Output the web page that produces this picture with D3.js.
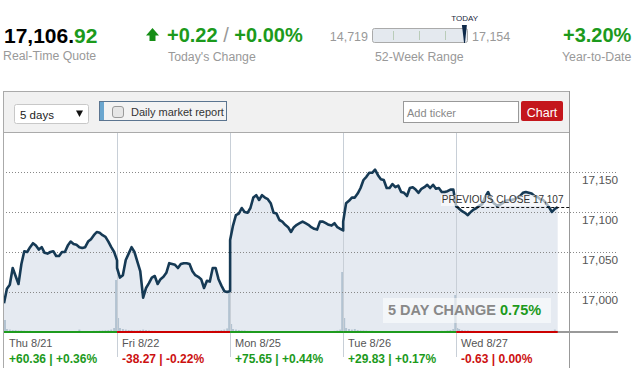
<!DOCTYPE html>
<html><head><meta charset="utf-8">
<script src="https://cdn.jsdelivr.net/npm/d3@7"></script>
<style>
html,body{margin:0;padding:0;background:#fff;}
svg{display:block;font-family:"Liberation Sans",Arial,sans-serif;}
</style></head>
<body>
<svg id="c" width="639" height="382"></svg>
<script>
// ---------- data ----------
const days = ["Thu 8/21", "Fri 8/22", "Mon 8/25", "Tue 8/26", "Wed 8/27"];
const dayChange = [60.36, -38.27, 75.65, 29.83, -0.63];
const dayChangePct = [0.36, -0.22, 0.44, 0.17, 0.00];

// prices every 10 minutes from 9:30
const thuPrice = [16986,17004,17009,17030,17020,17010,17035,17051,17050,17056,17061,17058,17053,17056,17049,17048,17050,17051,17045,17045,17050,17050,17058,17063,17060,17059,17056,17055,17056,17063,17066,17071,17075,17074,17071,17069,17063,17056,17050,17039.49];
const friPrice = [17030,17018,17021,17040,17048,17056,17050,17038,17026,16993,17005,17011,17018,17020,17010,17016,17019,17024,17036,17035,17034,17030,17035,17036,17036,17035,17026,17021,17019,17016,17005,17014,17013,17030,17030,17016,17008,17001,17000,17001.22];
const monPrice = [17065,17083,17096,17098,17105,17100,17099,17105,17118,17121,17115,17121,17118,17116,17111,17099,17098,17090,17088,17084,17081,17075,17081,17084,17086,17088,17086,17084,17081,17079,17078,17088,17088,17086,17084,17083,17086,17081,17079,17076.87];
const tuePrice = [17088,17111,17114,17118,17118,17123,17130,17140,17144,17149,17149,17153,17146,17141,17140,17130,17130,17135,17131,17133,17125,17124,17120,17130,17131,17128,17124,17129,17131,17134,17130,17134,17129,17130,17125,17125,17126,17128,17128,17106.70];
const wedPrice = [17108,17104,17101,17099,17096,17100,17103,17105,17108,17110,17119,17125,17116,17111,17108,17109,17111,17114,17115,17115,17116,17118,17120,17124,17125,17124,17123,17120,17119,17116,17115,17111,17106,17100,17104,17106.07];

// volume (millions of shares) per 10-minute bucket
const thuVol = [6,1.5,1.2,1,1,0.8,0.8,0.7,0.6,0.6,0.5,0.5,0.5,0.5,0.4,0.4,0.4,0.4,0.4,0.4,0.4,0.5,0.4,0.4,0.4,0.5,1.2,0.5,0.5,0.5,0.5,0.6,0.6,0.7,0.8,0.9,1,1.2,2,26];
const friVol = [7,2,1.5,1.2,1,1,0.8,0.8,1,1.2,1,0.8,0.6,0.6,0.5,0.5,0.5,0.4,0.4,0.4,0.4,0.4,0.4,0.4,0.4,0.4,0.5,0.5,0.5,0.5,0.6,0.6,0.6,0.7,0.8,0.8,1,1.2,1.8,20];
const monVol = [4,1.5,1.2,1,0.8,0.8,0.6,0.6,0.5,0.5,0.5,0.4,0.4,0.4,0.4,0.4,0.4,0.3,0.3,0.3,0.3,0.3,0.3,0.3,0.3,0.3,0.3,0.3,0.3,0.4,0.4,0.4,0.4,0.4,0.5,0.5,0.6,0.8,1.2,30];
const tueVol = [7,2,1.5,1.2,1.5,1,0.8,0.8,0.7,0.6,0.6,0.5,0.5,0.5,0.5,0.4,0.4,0.4,0.4,0.4,0.4,0.4,0.5,0.4,0.4,0.4,0.4,0.4,0.4,0.4,0.5,0.5,0.5,0.5,0.6,0.6,0.8,1,1.5,18.5];
const wedVol = [2,1.5,1,0.8,0.8,0.6,0.6,0.5,0.5,0.5,0.5,0.5,0.4,0.4,0.4,0.4,0.4,0.3,0.3,0.3,0.3,0.3,0.3,0.3,0.3,0.3,0.3,0.3,0.4,0.4,0.4,0.4,0.5,0.6,1.2,0.6];

const yTicks = [17000, 17050, 17100, 17150];
const prevClose = 17106.70;
const quote = 17106.92;
const todayChange = 0.22, todayPct = 0.00;
const weekLow = 14719, weekHigh = 17154;
const ytdPct = 3.20;
const fiveDayPct = 0.75;

// ---------- setup ----------
const priceDays = [thuPrice, friPrice, monPrice, tuePrice, wedPrice];
const volDays = [thuVol, friVol, monVol, tueVol, wedVol];
const STEP = 10, DAYMIN = 390;
const pts = [], vols = [];
priceDays.forEach((arr, d) => arr.forEach((v, i) => pts.push({t: d*DAYMIN + i*STEP, v})));
volDays.forEach((arr, d) => arr.forEach((v, i) => vols.push({t: d*DAYMIN + i*STEP, v, first: i===0, last: i===arr.length-1})));

const GREEN = "#1c9a1c", RED = "#cc1010", NAVY = "#163a55";
const svg = d3.select("#c");

const x = d3.scaleLinear().domain([0, 5*DAYMIN]).range([4, 569.3]);
const y = d3.scaleLinear().domain([16950, 17200]).range([332, 132]);
const yv = d3.scaleLinear().domain([0, 30]).range([332, 272]);

// ---------- header ----------
const fmt2 = d3.format(",.2f");
const q = fmt2(quote);
const qt = svg.append("text").attr("x", 4).attr("y", 43).attr("font-size", 21).attr("font-weight", "bold");
qt.append("tspan").attr("fill", "#000").text(q.slice(0, q.length - 2));
qt.append("tspan").attr("fill", GREEN).text(q.slice(q.length - 2));
svg.append("text").attr("x", 3).attr("y", 60).attr("font-size", 12.3).attr("fill", "#999").text("Real-Time Quote");

svg.append("path").attr("fill", "#168e16")
  .attr("d", "M146,35.5 L152.5,28 L159,35.5 L155.5,35.5 L155.5,41 L149.5,41 L149.5,35.5 Z");
const sgn = v => v > 0 ? "+" : (v < 0 ? "-" : "");
const tc = svg.append("text").attr("x", 167).attr("y", 42).attr("font-size", 20).attr("font-weight", "bold").attr("fill", GREEN);
tc.append("tspan").text("+" + Math.abs(todayChange).toFixed(2) + " ");
tc.append("tspan").attr("fill", "#999").attr("font-weight", "normal").text("/");
tc.append("tspan").text(" +" + Math.abs(todayPct).toFixed(2) + "%");
svg.append("text").attr("x", 168).attr("y", 61).attr("font-size", 12.3).attr("fill", "#999").text("Today's Change");

// 52-week range
const fmt0 = d3.format(",");
svg.append("text").attr("x", 368).attr("y", 41).attr("text-anchor", "end").attr("font-size", 12.5).attr("fill", "#999").text(fmt0(weekLow));
svg.append("rect").attr("x", 372.5).attr("y", 28.5).attr("width", 95).attr("height", 14).attr("rx", 2).attr("fill", "#e4e9ef").attr("stroke", "#aaa");
const rq = d3.scaleLinear().domain([0, 4]).range([367.5, 471]);
[1, 2, 3].forEach(k => svg.append("line").attr("x1", Math.round(rq(k)) + 0.5).attr("x2", Math.round(rq(k)) + 0.5).attr("y1", 31).attr("y2", 40).attr("stroke", "#b9ccb9"));
const rx = d3.scaleLinear().domain([weekLow, weekHigh]).range([372.5, 466.5]);
const mx = rx(quote);
svg.append("path").attr("fill", "#0f2a4a").attr("d", `M${mx-2.8},25 L${mx+2.2},25 L${mx+0.3},43 L${mx-0.6},43 Z`);
svg.append("text").attr("x", mx).attr("y", 21).attr("text-anchor", "middle").attr("font-size", 8).attr("fill", "#1a2a40").text("TODAY");
svg.append("text").attr("x", 472).attr("y", 41).attr("font-size", 12.5).attr("fill", "#999").text(fmt0(weekHigh));
svg.append("text").attr("x", 375).attr("y", 61).attr("font-size", 12.3).attr("fill", "#999").text("52-Week Range");

svg.append("text").attr("x", 563).attr("y", 42).attr("font-size", 20).attr("font-weight", "bold").attr("fill", GREEN).text("+" + ytdPct.toFixed(2) + "%");
svg.append("text").attr("x", 562).attr("y", 61).attr("font-size", 12.3).attr("fill", "#999").text("Year-to-Date");

// ---------- toolbar ----------
svg.append("rect").attr("x", 3.5).attr("y", 91.5).attr("width", 566).attr("height", 41).attr("fill", "#f1f1f1").attr("stroke", "#aaa");
svg.append("rect").attr("x", 14.5).attr("y", 104.5).attr("width", 74).attr("height", 19).attr("rx", 2).attr("fill", "#fff").attr("stroke", "#c8c8c8");
svg.append("text").attr("x", 20).attr("y", 118.5).attr("font-size", 11.5).attr("fill", "#222").text("5 days");
svg.append("path").attr("d", "M76,110.5 L83,110.5 L79.5,117 Z").attr("fill", "#111");

svg.append("rect").attr("x", 99.5).attr("y", 101.5).attr("width", 127).attr("height", 19).attr("fill", "#f3f3f3").attr("stroke", "#5b7590");
svg.append("rect").attr("x", 100).attr("y", 102).attr("width", 4).attr("height", 18).attr("fill", "#6aa6cf");
svg.append("rect").attr("x", 112.5).attr("y", 106.5).attr("width", 11).attr("height", 11).attr("rx", 2.5).attr("fill", "#e6e6e6").attr("stroke", "#9a9a9a");
svg.append("text").attr("x", 131).attr("y", 115.5).attr("font-size", 11).attr("fill", "#333").text("Daily market report");

svg.append("rect").attr("x", 403.5).attr("y", 101.5).attr("width", 115).attr("height", 21).attr("fill", "#fff").attr("stroke", "#999");
svg.append("text").attr("x", 407).attr("y", 116.5).attr("font-size", 11).attr("fill", "#888").text("Add ticker");
svg.append("rect").attr("x", 521).attr("y", 101).attr("width", 42).attr("height", 20).attr("rx", 2).attr("fill", "#c4161c");
svg.append("text").attr("x", 542).attr("y", 116.5).attr("text-anchor", "middle").attr("font-size", 12.5).attr("fill", "#fff").text("Chart");

// ---------- chart ----------
svg.append("defs").append("clipPath").attr("id", "plot").append("rect")
  .attr("x", 4).attr("y", 133).attr("width", 565.3).attr("height", 199);

// fill
const area = d3.area().x(d => x(d.t)).y0(y(16950)).y1(d => y(d.v));
svg.append("path").datum(pts).attr("clip-path", "url(#plot)").attr("fill", "#e5eaf1").attr("d", area);

// volume
svg.append("g").attr("clip-path", "url(#plot)").selectAll("rect").data(vols).join("rect")
  .attr("x", d => x(d.t) + (d.last ? -2 : (d.first ? 0 : -1)))
  .attr("width", 2)
  .attr("y", d => yv(d.v)).attr("height", d => yv(0) - yv(d.v))
  .attr("fill", "#b3c3d1");

// gridlines
svg.append("g").selectAll("line").data(yTicks).join("line")
  .attr("x1", 6).attr("x2", 618)
  .attr("y1", d => Math.round(y(d)) + 0.5).attr("y2", d => Math.round(y(d)) + 0.5)
  .attr("stroke", "#888").attr("stroke-dasharray", "1,2");

// day separators
svg.append("g").selectAll("line").data(d3.range(1, 5)).join("line")
  .attr("x1", d => Math.round(x(d*DAYMIN)) + 0.5).attr("x2", d => Math.round(x(d*DAYMIN)) + 0.5)
  .attr("y1", 133).attr("y2", 357).attr("stroke", "#c8cfd7");

// price line
const line = d3.line().x(d => x(d.t)).y(d => y(d.v));
svg.append("path").datum(pts).attr("clip-path", "url(#plot)").attr("fill", "none")
  .attr("stroke", NAVY).attr("stroke-width", 2.6).attr("stroke-linejoin", "round").attr("d", line);

// baseline
svg.append("line").attr("x1", 4).attr("x2", 618).attr("y1", 332).attr("y2", 332).attr("stroke", "#999").attr("stroke-width", 2);
svg.append("g").selectAll("line").data(days).join("line")
  .attr("x1", (d, i) => x(i*DAYMIN))
  .attr("x2", (d, i) => x(i*DAYMIN + (priceDays[i].length - 1) * STEP))
  .attr("y1", 332).attr("y2", 332).attr("stroke-width", 2)
  .attr("stroke", (d, i) => dayChange[i] >= 0 ? "#1e9b1e" : "#cc0000");

// box borders
svg.append("line").attr("x1", 3.5).attr("x2", 3.5).attr("y1", 91).attr("y2", 368).attr("stroke", "#aaa");
svg.append("line").attr("x1", 569.5).attr("x2", 569.5).attr("y1", 91).attr("y2", 368).attr("stroke", "#999");

// y labels
svg.append("g").selectAll("text").data(yTicks).join("text")
  .attr("x", 582).attr("y", d => y(d) + 11.5)
  .attr("font-size", 11.8).attr("fill", "#555").text(d => fmt0(d));

// previous close
const pcY = Math.round(y(prevClose)) + 0.5;
svg.append("line").attr("x1", x(4*DAYMIN)).attr("x2", 570).attr("y1", pcY).attr("y2", pcY)
  .attr("stroke", "#111").attr("stroke-dasharray", "3,2");
svg.append("rect").attr("x", 441).attr("y", 195).attr("width", 124).attr("height", 11).attr("fill", "#fff").attr("opacity", 0.62);
svg.append("text").attr("x", 563.5).attr("y", 202.8).attr("text-anchor", "end").attr("font-size", 10).attr("fill", "#333")
  .text("PREVIOUS CLOSE " + fmt0(Math.round(prevClose)));

// 5 day change
svg.append("rect").attr("x", 383).attr("y", 298).attr("width", 168).attr("height", 25).attr("fill", "#fff").attr("opacity", 0.55);
const fd = svg.append("text").attr("x", 388).attr("y", 315).attr("font-size", 14.5).attr("font-weight", "bold");
fd.append("tspan").attr("fill", "#888").text("5 DAY CHANGE ");
fd.append("tspan").attr("fill", GREEN).text(fiveDayPct.toFixed(2) + "%");

// day labels
const dl = svg.append("g").selectAll("g").data(days).join("g");
dl.append("text").attr("x", (d, i) => Math.round(x(i*DAYMIN)) + 5).attr("y", 346.5)
  .attr("font-size", 11).attr("fill", "#555").text(d => d);
dl.append("text").attr("x", (d, i) => Math.round(x(i*DAYMIN)) + 5).attr("y", 363)
  .attr("font-size", 12).attr("font-weight", "bold")
  .attr("fill", (d, i) => dayChange[i] >= 0 ? GREEN : RED)
  .text((d, i) => sgn(dayChange[i]) + Math.abs(dayChange[i]).toFixed(2) + " | " + sgn(dayChangePct[i]) + Math.abs(dayChangePct[i]).toFixed(2) + "%");
</script>
</body></html>
